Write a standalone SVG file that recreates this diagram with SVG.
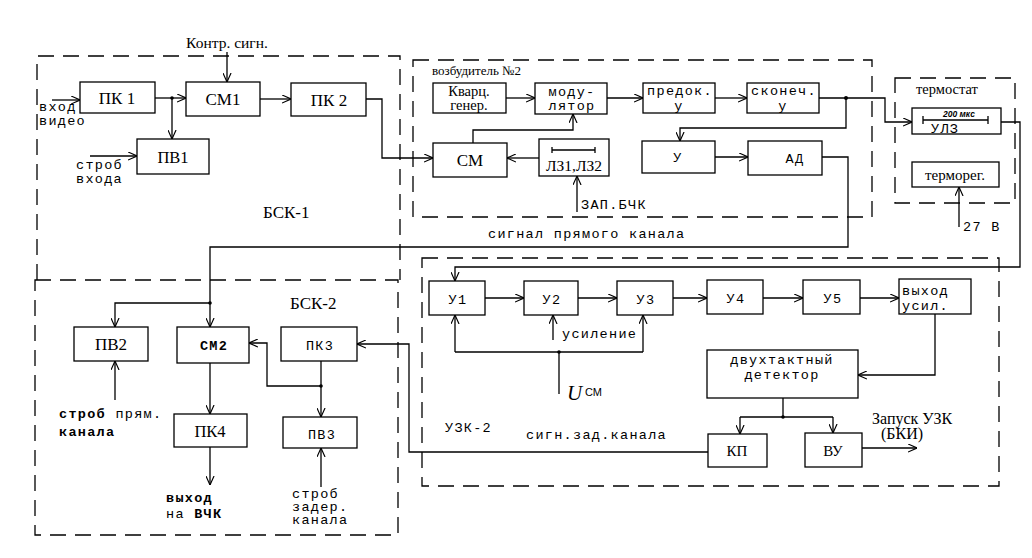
<svg xmlns="http://www.w3.org/2000/svg" width="1032" height="558" viewBox="0 0 1032 558">
<style>
.bg{fill:#fff}
.box{fill:#fff;stroke:#000;stroke-width:1.3}
.dash{fill:none;stroke:#000;stroke-width:1.3;stroke-dasharray:16 9}
.ln{fill:none;stroke:#000;stroke-width:1.3}
.arr{fill:none;stroke:#000;stroke-width:1.3;marker-end:url(#ah)}
.s{font-family:"Liberation Serif","Times New Roman",serif;fill:#000}
.m{font-family:"Liberation Mono","Courier New",monospace;fill:#000;font-size:13.5px;letter-spacing:1.3px}
.c{text-anchor:middle}
.dot{fill:#000}
</style>
<defs>
<marker id="ah" viewBox="0 0 10 10" refX="10" refY="5" markerWidth="9" markerHeight="9" markerUnits="userSpaceOnUse" orient="auto">
<path d="M0,0.5 L10,5 L0,9.5" fill="none" stroke="#000" stroke-width="1.3"/>
</marker>
</defs>
<rect class="bg" x="0" y="0" width="1032" height="558"/>

<g id="frames">
<path class="dash" d="M37,280 V56 H400 V280"/>
<rect class="dash" x="35" y="280" width="363" height="255"/>
<rect class="dash" x="413" y="60" width="459" height="157"/>
<rect class="dash" x="895" y="78" width="120" height="125"/>
<rect class="dash" x="422" y="258" width="577" height="228"/>
<text class="s" x="263" y="218" font-size="17">БСК-1</text>
<text class="s" x="432" y="75" font-size="13">возбудитель №2</text>
<text class="s" x="916" y="94" font-size="14.5">термостат</text>
<text class="s" x="290" y="309" font-size="17">БСК-2</text>
<text class="m" x="445" y="432">УЗК-2</text>
</g>

<g id="connectors">
<path class="arr" d="M52,100 H80"/>
<path class="arr" d="M155,98 H186"/>
<path class="arr" d="M172,98 V139"/>
<circle class="dot" cx="172" cy="98" r="1.8"/>
<path class="arr" d="M90,156 H137"/>
<path class="arr" d="M227,52 V82"/>
<path class="arr" d="M260,99 H291"/>
<path class="arr" d="M366,99 H382 V158 H433"/>
<path class="arr" d="M506,98 H535"/>
<path class="arr" d="M607,98 H643"/>
<path class="arr" d="M715,98 H747"/>
<path class="arr" d="M819,98 H885 V122 H912"/>
<circle class="dot" cx="846" cy="98" r="2"/>
<path class="arr" d="M846,98 V128 H680 V141"/>
<path class="arr" d="M715,157 H748"/>
<path class="arr" d="M822,157 H848 V247 H210 V327"/>
<circle class="dot" cx="210" cy="303" r="1.8"/>
<path class="arr" d="M210,303 H115 V327"/>
<path class="arr" d="M539,158 H507"/>
<path class="arr" d="M577,212 V176"/>
<path class="arr" d="M473,143 V130 H573 V114"/>
<path class="arr" d="M1001,122 H1020 V267 H455 V281"/>
<path class="arr" d="M959,227 V187"/>
<path class="arr" d="M485,298 H524"/>
<path class="arr" d="M578,298 H617"/>
<path class="arr" d="M673,298 H707"/>
<path class="arr" d="M763,298 H803"/>
<path class="arr" d="M860,298 H899"/>
<path class="ln" d="M559,394 V352"/>
<path class="ln" d="M455,352 H643"/>
<path class="arr" d="M455,352 V315"/>
<path class="arr" d="M643,352 V315"/>
<circle class="dot" cx="559" cy="352" r="1.8"/>
<path class="arr" d="M553,340 V315"/>
<path class="arr" d="M935,314 V375 H858"/>
<path class="ln" d="M783,398 V417"/>
<path class="ln" d="M740,417 H833"/>
<path class="arr" d="M740,417 V434"/>
<path class="arr" d="M833,417 V433"/>
<circle class="dot" cx="783" cy="417" r="1.8"/>
<path class="arr" d="M862,448 H917"/>
<path class="arr" d="M708,452 H409 V344 H357"/>
<path class="arr" d="M210,363 V414"/>
<path class="arr" d="M210,447 V485"/>
<path class="arr" d="M321,361 V417"/>
<circle class="dot" cx="321" cy="386" r="1.8"/>
<path class="arr" d="M321,386 H267 V343 H249"/>
<path class="arr" d="M115,400 V361"/>
<path class="arr" d="M321,487 V448"/>
</g>

<g id="labels">
<text class="s c" x="227" y="48" font-size="15.5">Контр. сигн.</text>
<text class="m" x="39" y="111">вход</text>
<text class="m" x="39" y="125">видео</text>
<text class="m" x="76" y="169">строб</text>
<text class="m" x="76" y="183">входа</text>
<text class="m" x="581" y="209">ЗАП.БЧК</text>
<text class="m" x="488" y="238" letter-spacing="1.7">сигнал прямого канала</text>
<text class="m" x="963" y="231" font-size="14">27  В</text>
<text class="m" x="59" y="418" letter-spacing="1.6"><tspan font-weight="bold">строб</tspan> прям.</text>
<text class="m" x="59" y="436" font-weight="bold" letter-spacing="1.6">канала</text>
<text class="m" x="166" y="502" font-weight="bold">выход</text>
<text class="m" x="166" y="518">на <tspan font-weight="bold">ВЧК</tspan></text>
<text class="m" x="292" y="498" font-size="12" letter-spacing="1.6">строб</text>
<text class="m" x="292" y="511" font-size="12" letter-spacing="1.6">задер.</text>
<text class="m" x="292" y="524" font-size="12" letter-spacing="1.6">канала</text>
<text class="m" x="562" y="338">усиление</text>
<text class="s" x="567" y="400" font-size="21" font-style="italic">U</text>
<text x="585" y="396" font-size="11" font-family="Liberation Sans, Arial, sans-serif">СМ</text>
<text class="m" x="526" y="439" letter-spacing="1.8" fill="#222">сигн.зад.канала</text>
<text class="s" x="872" y="424" font-size="16">Запуск УЗК</text>
<text class="s" x="881" y="439" font-size="16">(БКИ)</text>
</g>

<g id="n-pk1"><rect class="box" x="80" y="82" width="75" height="31"/><text class="s c" x="117" y="104" font-size="17">ПК 1</text></g>
<g id="n-sm1"><rect class="box" x="186" y="82" width="74" height="34"/><text class="s c" x="223" y="105" font-size="17">СМ1</text></g>
<g id="n-pk2"><rect class="box" x="291" y="83" width="75" height="33"/><text class="s c" x="329" y="106" font-size="17">ПК 2</text></g>
<g id="n-pv1"><rect class="box" x="137" y="139" width="72" height="35"/><text class="s c" x="173" y="163" font-size="16.5">ПВ1</text></g>

<g id="n-kvarc"><rect class="box" x="433" y="83" width="73" height="30"/><text class="s c" x="469" y="96" font-size="14.5">Кварц.</text><text class="s c" x="469" y="110" font-size="14.5">генер.</text></g>
<g id="n-mod"><rect class="box" x="535" y="83" width="72" height="31"/><text class="m c" x="572" y="96" font-size="14.5" letter-spacing="2.6">моду-</text><text class="m c" x="572" y="110" font-size="14.5" letter-spacing="2.6">лятор</text></g>
<g id="n-predok"><rect class="box" x="643" y="83" width="72" height="30"/><text class="m c" x="680" y="95">предок.</text><text class="m c" x="679" y="110">у</text></g>
<g id="n-skon"><rect class="box" x="747" y="83" width="72" height="30"/><text class="m c" x="784" y="95">сконеч.</text><text class="m c" x="783" y="110">у</text></g>
<g id="n-sm"><rect class="box" x="433" y="143" width="74" height="34"/><text class="s c" x="470" y="166" font-size="17">СМ</text></g>
<g id="n-lz"><rect class="box" x="539" y="139" width="70" height="37"/><path class="ln" d="M552,150 H595 M552,147 V153 M595,147 V153"/><text class="s c" x="574" y="171" font-size="15.5">ЛЗ1,ЛЗ2</text></g>
<g id="n-u"><rect class="box" x="642" y="141" width="73" height="32"/><text class="m c" x="678" y="162" font-size="16">У</text></g>
<g id="n-ad"><rect class="box" x="748" y="141" width="74" height="34"/><text class="m c" x="795" y="163" font-size="15" letter-spacing="2">АД</text></g>

<g id="n-ulz"><rect class="box" x="912" y="108" width="89" height="26"/><path class="ln" d="M923,120 H988 M923,116 V124 M988,116 V124"/><text x="943" y="117" font-size="8.5" font-style="italic" font-weight="bold" font-family="Liberation Sans, Arial, sans-serif">200 мкс</text><text class="m" x="931" y="133">УЛЗ</text></g>
<g id="n-termoreg"><rect class="box" x="912" y="162" width="87" height="25"/><text class="s c" x="955" y="180" font-size="15">терморег.</text></g>

<g id="n-pv2"><rect class="box" x="74" y="327" width="74" height="34"/><text class="s c" x="111" y="350" font-size="17">ПВ2</text></g>
<g id="n-sm2"><rect class="box" x="177" y="327" width="72" height="36"/><text class="m c" x="214" y="350" font-size="15" font-weight="bold">СМ2</text></g>
<g id="n-pk3"><rect class="box" x="281" y="327" width="76" height="34"/><text class="m c" x="320" y="350" font-size="16" letter-spacing="2.5">ПК3</text></g>
<g id="n-pk4"><rect class="box" x="174" y="414" width="73" height="33"/><text class="s c" x="210" y="437" font-size="16.5">ПК4</text></g>
<g id="n-pv3"><rect class="box" x="283" y="417" width="74" height="31"/><text class="m c" x="322" y="439" font-size="16" letter-spacing="5">ПВ3</text></g>

<g id="n-u1"><rect class="box" x="429" y="281" width="56" height="34"/><text class="m c" x="458" y="304" font-size="17" letter-spacing="2">У1</text></g>
<g id="n-u2"><rect class="box" x="524" y="281" width="54" height="34"/><text class="m c" x="552" y="304" font-size="17" letter-spacing="2">У2</text></g>
<g id="n-u3"><rect class="box" x="617" y="281" width="56" height="34"/><text class="m c" x="646" y="304" font-size="17" letter-spacing="2">У3</text></g>
<g id="n-u4"><rect class="box" x="707" y="280" width="56" height="34"/><text class="m c" x="736" y="303" font-size="17" letter-spacing="2">У4</text></g>
<g id="n-u5"><rect class="box" x="803" y="280" width="57" height="34"/><text class="m c" x="833" y="303" font-size="17" letter-spacing="2">У5</text></g>
<g id="n-vyh"><rect class="box" x="899" y="279" width="72" height="35"/><text class="m" x="902" y="295" letter-spacing="1.9">выход</text><text class="m" x="902" y="310" letter-spacing="1.9">усил.</text></g>
<g id="n-det"><rect class="box" x="707" y="350" width="151" height="48"/><text class="m c" x="782" y="364" letter-spacing="1.6">двухтактный</text><text class="m c" x="782" y="379" letter-spacing="1.6">детектор</text></g>
<g id="n-kp"><rect class="box" x="708" y="434" width="59" height="33"/><text class="s c" x="737" y="456" font-size="15">КП</text></g>
<g id="n-vu"><rect class="box" x="805" y="433" width="57" height="34"/><text class="s c" x="833" y="456" font-size="15">ВУ</text></g>
</svg>
